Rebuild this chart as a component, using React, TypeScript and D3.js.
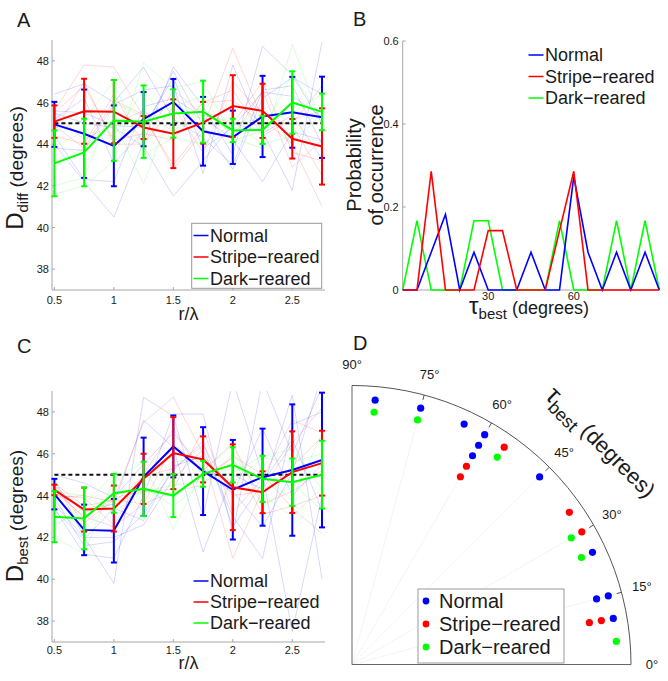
import React from "react";
import * as d3 from "d3";

const FONT = "'Liberation Sans', Arial, Helvetica, sans-serif";

const rLambda = [0.5, 0.75, 1, 1.25, 1.5, 1.75, 2, 2.25, 2.5, 2.75];
const groupNames = ["Normal", "Stripe\u2212reared", "Dark\u2212reared"];
const groupColors = ["#0000ff", "#ff0000", "#00ff00"];
const degTicks = [38, 40, 42, 44, 46, 48];
const rTicks = [0.5, 1, 1.5, 2, 2.5];

// Panel A: D_diff
const diffNormal = [44.95, 44.5, 43.92, 45.2, 46.03, 44.62, 44.33, 45.33, 45.53, 45.29];
const diffNormalErr = [1.08, 2.12, 1.94, 1.3, 1.1, 1.65, 1.28, 1.95, 1.7, 1.95];
const diffStripe = [45.08, 45.58, 45.56, 44.8, 44.5, 45.03, 45.83, 45.6, 44.26, 43.89];
const diffStripeErr = [0.78, 1.56, 1.52, 0.55, 1.65, 1.0, 1.48, 1.3, 0.95, 1.83];
const diffDark = [43.08, 43.6, 45.14, 45.08, 45.47, 45.56, 44.66, 44.68, 46.0, 45.55];
const diffDarkErr = [1.58, 1.62, 1.94, 1.74, 1.16, 1.49, 0.56, 0.67, 1.5, 0.88];

const diffNormalCells = [
  [46.4, 46.9, 46.0, 47.7, 45.2, 44.3, 43.0, 46.6, 46.8, 44.0],
  [44.0, 42.2, 40.5, 44.1, 47.7, 45.8, 43.5, 48.7, 47.3, 45.0],
  [45.5, 45.0, 44.8, 43.9, 41.5, 43.2, 45.0, 44.6, 41.8, 48.9],
  [43.8, 43.7, 45.9, 46.6, 46.8, 42.6, 47.8, 44.5, 45.4, 43.3],
  [45.2, 46.2, 43.1, 44.6, 47.5, 44.9, 42.8, 46.2, 47.2, 46.4],
  [44.4, 42.3, 42.2, 45.8, 46.2, 45.3, 44.2, 42.2, 44.6, 44.2],
  [45.6, 45.5, 44.9, 44.8, 47.2, 43.8, 44.8, 46.5, 46.3, 45.3],
];
const diffStripeCells = [
  [45.6, 47.8, 47.7, 45.3, 43.0, 44.8, 48.6, 45.2, 44.0, 41.0],
  [44.4, 44.0, 46.4, 44.0, 46.6, 45.4, 45.0, 47.0, 43.6, 43.2],
  [45.5, 46.8, 44.2, 44.5, 44.2, 46.0, 46.6, 44.4, 45.2, 45.6],
  [44.9, 43.8, 46.1, 45.4, 42.8, 44.6, 44.3, 46.6, 42.9, 44.2],
  [44.6, 47.0, 44.0, 44.0, 45.8, 43.6, 47.0, 45.4, 44.9, 42.5],
  [45.5, 44.2, 45.0, 45.6, 44.6, 46.0, 46.1, 45.0, 45.0, 46.8],
];
const diffDarkCells = [
  [41.6, 42.0, 43.2, 47.9, 46.7, 47.0, 44.3, 43.8, 48.8, 44.9],
  [44.6, 45.2, 47.0, 43.5, 44.3, 44.0, 45.0, 45.2, 45.5, 46.4],
  [42.0, 42.4, 46.0, 45.3, 45.8, 46.3, 44.2, 44.6, 47.4, 45.2],
  [43.9, 44.6, 44.4, 46.6, 44.6, 45.4, 45.1, 44.0, 44.4, 45.7],
  [43.1, 43.8, 45.1, 42.1, 45.9, 45.2, 44.7, 45.8, 44.0, 45.5],
];

// Panel C: D_best
const bestNormal = [44.07, 42.36, 42.32, 44.9, 46.35, 45.17, 44.28, 44.88, 45.22, 45.7];
const bestNormalErr = [0.73, 1.21, 1.52, 1.87, 1.48, 2.1, 2.38, 2.32, 3.14, 3.22];
const bestStripe = [44.27, 43.33, 43.38, 44.8, 46.03, 45.73, 44.4, 44.16, 45.12, 45.55];
const bestStripeErr = [0.25, 1.05, 1.1, 1.2, 1.72, 1.1, 2.05, 1.0, 1.95, 1.55];
const bestDark = [42.99, 42.91, 44.11, 44.32, 44.0, 45.04, 45.47, 44.8, 44.64, 45.0];
const bestDarkErr = [1.22, 1.48, 0.93, 1.3, 1.03, 0.62, 0.84, 1.1, 1.13, 1.62];

const bestNormalCells = [
  [44.8, 42.0, 39.8, 48.7, 47.8, 43.0, 49.5, 45.0, 37.5, 44.0],
  [43.4, 41.2, 41.0, 44.0, 47.9, 47.9, 42.2, 49.5, 46.0, 49.2],
  [44.5, 43.2, 43.6, 47.6, 46.3, 41.3, 45.0, 44.3, 48.8, 40.0],
  [43.6, 42.0, 42.0, 42.6, 44.8, 46.2, 43.0, 41.0, 47.4, 48.0],
  [45.0, 44.6, 43.9, 45.5, 47.0, 45.3, 44.1, 47.2, 44.0, 45.5],
  [43.9, 41.6, 41.8, 43.1, 45.2, 46.6, 42.5, 44.6, 46.7, 43.3],
  [43.3, 41.9, 43.4, 42.8, 45.4, 45.9, 44.2, 42.5, 45.1, 49.8],
];
const bestStripeCells = [
  [44.6, 43.5, 43.8, 47.5, 48.7, 46.0, 41.0, 44.3, 46.5, 48.2],
  [44.0, 43.9, 42.6, 45.0, 47.2, 44.9, 45.8, 43.1, 43.5, 44.0],
  [44.4, 42.9, 43.9, 44.2, 44.3, 47.2, 43.2, 44.8, 47.6, 47.0],
  [44.2, 43.0, 42.5, 43.6, 46.5, 45.2, 46.5, 43.6, 44.2, 45.2],
  [43.9, 44.0, 43.7, 44.9, 45.3, 46.4, 44.0, 44.2, 45.4, 46.8],
  [44.5, 42.7, 43.8, 43.6, 44.2, 44.5, 45.9, 45.0, 43.4, 42.2],
];
const bestDarkCells = [
  [42.0, 41.2, 44.8, 45.6, 42.4, 45.2, 46.4, 43.4, 44.6, 43.3],
  [44.2, 44.0, 43.2, 44.2, 44.0, 44.9, 45.3, 44.9, 43.8, 47.0],
  [42.5, 43.6, 45.0, 43.2, 45.6, 45.8, 44.6, 45.8, 45.6, 46.0],
  [43.7, 42.3, 44.0, 44.4, 43.5, 44.6, 46.0, 44.0, 43.0, 44.4],
  [42.6, 43.4, 43.6, 44.2, 44.5, 44.7, 45.1, 45.9, 46.2, 44.3],
];

// Panel B: histogram of tau_best
const tauBins = [0, 5, 10, 15, 20, 25, 30, 35, 40, 45, 50, 55, 60, 65, 70, 75, 80, 85, 90];
const probNormal = [0, 0, 0.091, 0.182, 0, 0.091, 0, 0, 0, 0.091, 0, 0, 0.273, 0.091, 0, 0.091, 0, 0.091, 0];
const probStripe = [0, 0, 0.286, 0, 0, 0, 0.143, 0.143, 0, 0, 0, 0.143, 0.286, 0, 0, 0, 0, 0, 0];
const probDark = [0, 0.167, 0, 0, 0, 0.167, 0.167, 0, 0, 0, 0, 0.167, 0, 0, 0, 0.167, 0, 0.167, 0];
const probTicks = [0, 0.2, 0.4, 0.6];
const tauTicks = [30, 60];

// Panel D: tau_best per cell
const tauNormal = [85, 75, 65, 60, 60, 60, 45, 25, 15, 15, 10];
const tauStripe = [55, 60, 60, 35, 30, 10, 10];
const tauDark = [85, 75, 55, 30, 25, 5];
const polarTicks = [0, 15, 30, 45, 60, 75, 90];

const AXIS = "#a6a6a6";
const TXT = "#1a1a1a";

function SubLabel({ x, y, rotate, main, sub, sizes }: any) {
  return (
    <text
      transform={`translate(${x},${y}) rotate(${rotate})`}
      textAnchor="middle"
      fill={TXT}
    >
      <tspan fontSize={sizes[0]}>{main}</tspan>
      <tspan fontSize={sizes[1]} dy={sizes[1] * 0.35}>
        {sub}
      </tspan>
      <tspan fontSize={sizes[2]} dy={-sizes[1] * 0.35}>
        {"\u00a0(degrees)"}
      </tspan>
    </text>
  );
}

function LinePanel({ top, bottom, means, errs, cells, letter, letterY, sub, ylabelY, xlabelY, tickGap, legendRows, legendBox }: any) {
  const left = 52;
  const right = 325;
  const x = d3.scaleLinear().domain([0.48, 2.775]).range([left, right]);
  const y = d3.scaleLinear().domain([37, 49]).range([bottom, top]);
  const line = d3
    .line<number>()
    .x((_, i) => x(rLambda[i]))
    .y((d) => y(d));
  const clipId = "clip" + letter;
  return (
    <g>
      <defs>
        <clipPath id={clipId}>
          <rect x={left} y={top} width={right - left} height={bottom - top} />
        </clipPath>
      </defs>
      <text x={17} y={letterY} fontSize={20} fill={TXT}>
        {letter}
      </text>

      {/* axes */}
      <line x1={left} x2={left} y1={top} y2={bottom} stroke={AXIS} />
      <line x1={left} x2={right} y1={bottom} y2={bottom} stroke={AXIS} />
      {degTicks.map((t) => (
        <g key={t}>
          <line x1={left} x2={left + 3} y1={y(t)} y2={y(t)} stroke={AXIS} />
          <text x={left - 3} y={y(t)} textAnchor="end" dominantBaseline="central" fontSize={11} fill={TXT}>
            {t}
          </text>
        </g>
      ))}
      {rTicks.map((t) => (
        <g key={t}>
          <line x1={x(t)} x2={x(t)} y1={bottom} y2={bottom - 3} stroke={AXIS} />
          <text x={x(t)} y={bottom + tickGap} textAnchor="middle" dominantBaseline="central" fontSize={11} fill={TXT}>
            {t}
          </text>
        </g>
      ))}

      {/* individual cells */}
      <g clipPath={`url(#${clipId})`}>
        {cells.map((grp: number[][], gi: number) =>
          grp.map((c, ci) => (
            <path
              key={gi + "-" + ci}
              d={line(c) || ""}
              fill="none"
              stroke={groupColors[gi]}
              strokeOpacity={0.2}
              strokeWidth={0.8}
            />
          ))
        )}
      </g>

      {/* reference 45 deg */}
      <line
        x1={x(0.5)}
        x2={x(2.75)}
        y1={y(45)}
        y2={y(45)}
        stroke="#111"
        strokeWidth={2}
        strokeDasharray="4,3"
      />

      {/* means with error bars */}
      {means.map((m: number[], gi: number) => (
        <g key={gi}>
          {m.map((v, i) => {
            const cx = x(rLambda[i]);
            const e = errs[gi][i];
            return (
              <g key={i} stroke={groupColors[gi]} strokeWidth={2}>
                <line x1={cx} x2={cx} y1={y(v - e)} y2={y(v + e)} />
                <line x1={cx - 3} x2={cx + 3} y1={y(v - e)} y2={y(v - e)} />
                <line x1={cx - 3} x2={cx + 3} y1={y(v + e)} y2={y(v + e)} />
              </g>
            );
          })}
          <path d={line(m) || ""} fill="none" stroke={groupColors[gi]} strokeWidth={2} />
        </g>
      ))}

      {/* legend */}
      {legendBox && (
        <rect x={legendBox[0]} y={legendBox[1]} width={legendBox[2]} height={legendBox[3]} fill="#fff" stroke="#999" />
      )}
      {groupNames.map((g, gi) => (
        <g key={g}>
          <line x1={193.5} x2={208.5} y1={legendRows[gi]} y2={legendRows[gi]} stroke={groupColors[gi]} strokeWidth={1.5} />
          <text x={210} y={legendRows[gi]} dominantBaseline="central" fontSize={18} fill={TXT}>
            {g}
          </text>
        </g>
      ))}

      <SubLabel x={23} y={ylabelY} rotate={-90} main="D" sub={sub} sizes={[24, 15, 19]} />
      <text x={188.5} y={xlabelY} textAnchor="middle" fontSize={18} fill={TXT}>
        r/λ
      </text>
    </g>
  );
}

function HistPanel() {
  const x = d3.scaleLinear().domain([0, 90]).range([402.7, 659.3]);
  const y = d3.scaleLinear().domain([0, 0.6]).range([290, 41]);
  const line = d3
    .line<number>()
    .x((_, i) => x(tauBins[i]))
    .y((d) => y(d));
  const series = [
    { data: probDark, color: groupColors[2] },
    { data: probNormal, color: groupColors[0] },
    { data: probStripe, color: groupColors[1] },
  ];
  return (
    <g>
      <text x={353} y={26} fontSize={20} fill={TXT}>
        B
      </text>
      <line x1={x(0)} x2={x(0)} y1={41} y2={290} stroke={AXIS} />
      <line x1={x(0)} x2={x(90)} y1={290} y2={290} stroke={AXIS} />
      {probTicks.map((t) => (
        <g key={t}>
          <line x1={x(0)} x2={x(0) + 3} y1={y(t)} y2={y(t)} stroke={AXIS} />
          <text x={x(0) - 4} y={y(t)} textAnchor="end" dominantBaseline="central" fontSize={11} fill={TXT}>
            {t}
          </text>
        </g>
      ))}
      {series.map((s, i) => (
        <path key={i} d={line(s.data) || ""} fill="none" stroke={s.color} strokeWidth={1.6} />
      ))}
      {tauTicks.map((t) => (
        <text key={t} x={x(t)} y={296} textAnchor="middle" dominantBaseline="central" fontSize={11} fill={TXT}>
          {t}
        </text>
      ))}
      {groupNames.map((g, gi) => {
        const ry = [55, 76.5, 98][gi];
        return (
          <g key={g}>
            <line x1={528.5} x2={543.5} y1={ry} y2={ry} stroke={groupColors[gi]} strokeWidth={1.5} />
            <text x={545} y={ry} dominantBaseline="central" fontSize={18} fill={TXT}>
              {g}
            </text>
          </g>
        );
      })}
      <text transform="translate(361,165) rotate(-90)" textAnchor="middle" fontSize={20} fill={TXT}>
        Probability
      </text>
      <text transform="translate(383,165) rotate(-90)" textAnchor="middle" fontSize={20} fill={TXT}>
        of occurrence
      </text>
      <SubLabel x={529} y={314} rotate={0} main="τ" sub="best" sizes={[24, 15, 18]} />
    </g>
  );
}

function PolarPanel() {
  const ox = 352;
  const oy = 664.5;
  const R = 279;
  const rad = (deg: number) => ((90 - deg) * Math.PI) / 180;
  const rScale = d3.scaleLinear().domain([0, 1]).range([0, R]);
  const arc = d3.path();
  arc.arc(ox, oy, R, -Math.PI / 2, 0);

  // stack dots that share an angle, working inwards
  const used: Record<number, number> = {};
  const dots: { p: [number, number]; c: string }[] = [];
  [tauNormal, tauStripe, tauDark].forEach((arr, gi) => {
    arr.forEach((a) => {
      const k = used[a] || 0;
      used[a] = k + 1;
      const [px, py] = d3.pointRadial(rad(a), rScale(0.951 - 0.0435 * k));
      dots.push({ p: [ox + px, oy + py], c: groupColors[gi] });
    });
  });

  return (
    <g>
      <text x={353} y={350} fontSize={20} fill={TXT}>
        D
      </text>
      {polarTicks.slice(1, -1).map((t) => {
        const [ex, ey] = d3.pointRadial(rad(t), R);
        return (
          <line key={t} x1={ox} y1={oy} x2={ox + ex} y2={oy + ey} stroke="#e2e2e2" strokeWidth={0.8} strokeDasharray="1,1" />
        );
      })}
      <line x1={ox} x2={ox} y1={oy - R} y2={oy} stroke="#666" />
      <line x1={ox} x2={ox + R} y1={oy} y2={oy} stroke="#666" />
      <path d={arc.toString()} fill="none" stroke="#555" />
      {polarTicks.map((t) => {
        const [ax, ay] = d3.pointRadial(rad(t), R);
        const [bx, by] = d3.pointRadial(rad(t), R - 5);
        const [lx, ly] = d3.pointRadial(rad(t), 300);
        return (
          <g key={t}>
            {t > 0 && t < 90 && <line x1={ox + ax} y1={oy + ay} x2={ox + bx} y2={oy + by} stroke="#555" />}
            <text x={ox + lx} y={oy + ly} textAnchor="middle" dominantBaseline="central" fontSize={13} fill={TXT}>
              {t}°
            </text>
          </g>
        );
      })}
      {dots.map((d, i) => (
        <circle key={i} cx={d.p[0]} cy={d.p[1]} r={3.6} fill={d.c} />
      ))}
      <rect x={418} y={589} width={146} height={74} fill="#fff" stroke="#999" />
      {groupNames.map((g, gi) => {
        const ry = [601, 624, 647][gi];
        return (
          <g key={g}>
            <circle cx={426} cy={ry} r={3.4} fill={groupColors[gi]} />
            <text x={439} y={ry} dominantBaseline="central" fontSize={20} fill={TXT}>
              {g}
            </text>
          </g>
        );
      })}
      <SubLabel x={595} y={448} rotate={45} main="τ" sub="best" sizes={[26, 18, 22]} />
    </g>
  );
}

export default function App() {
  return (
    <svg
      width={668}
      height={681}
      style={{ position: "absolute", left: 0, top: 0, background: "#fff", fontFamily: FONT }}
    >
      <rect width={668} height={681} fill="#fff" />
      <LinePanel
        top={40}
        bottom={290}
        letter="A"
        letterY={27}
        sub="diff"
        ylabelY={168}
        xlabelY={320}
        tickGap={10}
        means={[diffNormal, diffStripe, diffDark]}
        errs={[diffNormalErr, diffStripeErr, diffDarkErr]}
        cells={[diffNormalCells, diffStripeCells, diffDarkCells]}
        legendRows={[235.5, 257, 278.5]}
        legendBox={[191.7, 223.3, 130, 65]}
      />
      <HistPanel />
      <LinePanel
        top={391}
        bottom={642}
        letter="C"
        letterY={353}
        sub="best"
        ylabelY={516}
        xlabelY={669}
        tickGap={8}
        means={[bestNormal, bestStripe, bestDark]}
        errs={[bestNormalErr, bestStripeErr, bestDarkErr]}
        cells={[bestNormalCells, bestStripeCells, bestDarkCells]}
        legendRows={[581, 602, 623]}
        legendBox={null}
      />
      <PolarPanel />
    </svg>
  );
}
